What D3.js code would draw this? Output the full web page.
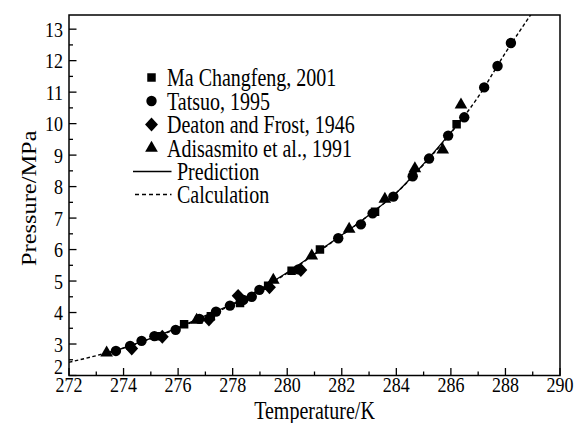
<!DOCTYPE html>
<html>
<head>
<meta charset="utf-8">
<script src="https://cdn.jsdelivr.net/npm/d3@7"></script>
<style>
  body { margin: 0; background: #fff; }
  svg text { font-family: "Liberation Serif", "Times New Roman", serif; fill: #000; }
</style>
</head>
<body>
<div id="chart"></div>
<script>
var maTemp = [275.3, 276.22, 277.2, 278.27, 279.3, 280.16, 281.2, 283.22, 286.21];
var maPres = [3.25, 3.63, 3.88, 4.3, 4.85, 5.33, 6.0, 7.2, 9.98];

var tatsuoTemp = [273.72, 274.24, 274.66, 275.13, 275.91, 276.78, 277.39, 277.9, 278.39, 278.7, 278.98,
  280.41, 281.87, 282.7, 283.13, 283.89, 284.6, 285.2, 285.9, 286.49, 287.22, 287.71, 288.2];
var tatsuoPres = [2.78, 2.94, 3.1, 3.25, 3.45, 3.8, 4.03, 4.22, 4.4, 4.5, 4.72,
  5.37, 6.36, 6.8, 7.15, 7.68, 8.33, 8.89, 9.62, 10.2, 11.15, 11.83, 12.56];

var deatonTemp = [274.3, 275.42, 277.13, 278.2, 279.35, 280.5];
var deatonPres = [2.86, 3.23, 3.78, 4.53, 4.8, 5.35];

var adisTemp = [273.38, 276.68, 279.49, 280.9, 282.27, 283.58, 284.68, 285.7, 286.37];
var adisPres = [2.72, 3.76, 5.03, 5.8, 6.65, 7.6, 8.57, 9.17, 10.6];

// model curves
var predTemp = [273.4, 274, 275, 276, 277, 278, 279, 280, 281, 282, 283, 284, 285, 286, 286.5];
var predPres = [2.72, 2.88, 3.18, 3.52, 3.9, 4.28, 4.74, 5.27, 5.86, 6.46, 7.1, 7.8, 8.72, 9.72, 10.25];

var calcTemp = [272, 273, 274, 275, 276, 277, 278, 279, 280, 281, 282, 283, 284, 285, 286, 287, 288, 289];
var calcPres = [2.42, 2.63, 2.87, 3.17, 3.5, 3.88, 4.25, 4.72, 5.25, 5.85, 6.45, 7.1, 7.8, 8.7, 9.7, 10.85, 12.25, 13.55];

var xTicks = d3.range(272, 291, 2);
var yTicks = d3.range(2, 14, 1);

var legendNames = ["Ma Changfeng, 2001", "Tatsuo, 1995", "Deaton and Frost, 1946",
  "Adisasmito et al., 1991", "Prediction", "Calculation"];

(function () {
  var width = 577, height = 423;
  var m = {left: 69, right: 560, top: 15, bottom: 375.5};
  var stretch = 1.22;  // text in the figure is stretched vertically

  var svg = d3.select("#chart").append("svg")
    .attr("width", width)
    .attr("height", height);

  var x = d3.scaleLinear().domain([272, 290]).range([m.left, m.right]);
  var y = d3.scaleLinear().domain([2, 13.45]).range([m.bottom, m.top]);

  function addText(g, px, py, str, size, anchor, rot) {
    return g.append("text")
      .attr("transform", "translate(" + px + "," + py + ") scale(1," + stretch + ")" + (rot ? " rotate(" + rot + ")" : ""))
      .attr("dy", "0.35em")
      .style("font-size", size + "px")
      .attr("text-anchor", anchor || "start")
      .text(str);
  }

  // markers
  var diamond = {
    draw: function (ctx, size) {
      var r = Math.sqrt(size) * 0.72;
      ctx.moveTo(0, -r * 1.08);
      ctx.lineTo(r, 0);
      ctx.lineTo(0, r * 1.08);
      ctx.lineTo(-r, 0);
      ctx.closePath();
    }
  };
  var shapes = [
    d3.symbol().type(d3.symbolSquare).size(72),
    d3.symbol().type(d3.symbolCircle).size(85),
    d3.symbol().type(diamond).size(80),
    d3.symbol().type(d3.symbolTriangle).size(70)
  ];

  svg.append("clipPath").attr("id", "plotclip")
    .append("rect").attr("x", m.left).attr("y", m.top)
    .attr("width", m.right - m.left).attr("height", m.bottom - m.top);

  var plot = svg.append("g").attr("clip-path", "url(#plotclip)");

  var line = d3.line()
    .x(function (d) { return x(d[0]); })
    .y(function (d) { return y(d[1]); })
    .curve(d3.curveMonotoneX);

  plot.append("path")
    .datum(calcTemp.map(function (t, i) { return [t, calcPres[i]]; }))
    .attr("d", line)
    .attr("fill", "none")
    .attr("stroke", "#000")
    .attr("stroke-width", 1.4)
    .attr("stroke-dasharray", "3.5,2.5");

  plot.append("path")
    .datum(predTemp.map(function (t, i) { return [t, predPres[i]]; }))
    .attr("d", line)
    .attr("fill", "none")
    .attr("stroke", "#000")
    .attr("stroke-width", 1.3);

  var series = [[maTemp, maPres], [tatsuoTemp, tatsuoPres], [deatonTemp, deatonPres], [adisTemp, adisPres]];
  series.forEach(function (s, k) {
    plot.selectAll(null)
      .data(s[0].map(function (t, i) { return [t, s[1][i]]; }))
      .enter()
      .append("path")
        .attr("d", shapes[k])
        .attr("transform", function (d) { return "translate(" + x(d[0]) + "," + y(d[1]) + ")"; })
        .attr("fill", "#000");
  });

  // axes: ticks pointing inward
  var xMinor = d3.range(272, 291, 1);
  var yMinor = d3.range(2, 13.5, 0.5);

  var axes = svg.append("g");
  axes.selectAll(null).data(xMinor).enter().append("line")
    .attr("x1", function (d) { return x(d); })
    .attr("x2", function (d) { return x(d); })
    .attr("y1", m.bottom)
    .attr("y2", function (d) { return m.bottom - (d % 2 === 0 ? 7.5 : 4); })
    .attr("stroke", "#000").attr("stroke-width", 1.3);

  axes.selectAll(null).data(yMinor).enter().append("line")
    .attr("y1", function (d) { return y(d); })
    .attr("y2", function (d) { return y(d); })
    .attr("x1", m.left)
    .attr("x2", function (d) { return m.left + (d % 1 === 0 ? 7.5 : 4); })
    .attr("stroke", "#000").attr("stroke-width", 1.3);

  svg.append("rect")
    .attr("x", m.left).attr("y", m.top)
    .attr("width", m.right - m.left).attr("height", m.bottom - m.top)
    .attr("fill", "none").attr("stroke", "#000").attr("stroke-width", 1.5);

  xTicks.forEach(function (t) {
    addText(axes, x(t), 384, String(t), 18, "middle");
  });
  yTicks.forEach(function (t) {
    addText(axes, 63, t === 2 ? y(t) - 9 : y(t), String(t), 18, "end");
  });

  addText(svg, (m.left + m.right) / 2, 410, "Temperature/K", 20, "middle");
  addText(svg, 29, (m.top + m.bottom) / 2 + 3, "Pressure/MPa", 20, "middle", -90);

  // legend
  var legend = svg.append("g");
  var rowY = [77.5, 101, 124.5, 148, 171.5, 194.5];
  legendNames.forEach(function (name, i) {
    if (i < 4) {
      legend.append("path")
        .attr("d", shapes[i])
        .attr("transform", "translate(151.5," + rowY[i] + ")")
        .attr("fill", "#000");
      addText(legend, 167, rowY[i], name, 20, "start");
    } else {
      legend.append("line")
        .attr("x1", i === 4 ? 133 : 135).attr("x2", 171.5)
        .attr("y1", rowY[i]).attr("y2", rowY[i])
        .attr("stroke", "#000")
        .attr("stroke-width", 1.3)
        .attr("stroke-dasharray", i === 5 ? "4,3" : null);
      addText(legend, 177, rowY[i], name, 20, "start");
    }
  });
})();
</script>
</body>
</html>
